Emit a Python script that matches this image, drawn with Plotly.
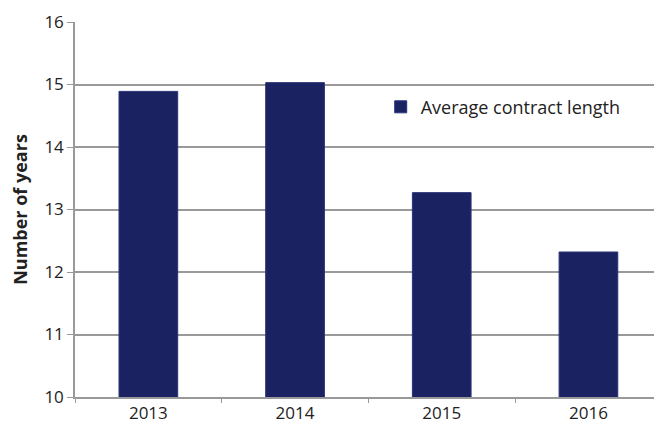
import plotly.graph_objects as go

years = ["2013", "2014", "2015", "2016"]
avg_length = [14.89, 15.03, 13.27, 12.32]
series_name = "Average contract length"
y_ticks = [10, 11, 12, 13, 14, 15, 16]

fig = go.Figure()
fig.add_trace(go.Bar(
    x=years, y=avg_length, name=series_name,
    marker=dict(color="#1b2262", line=dict(color="#2a3278", width=1)),
    showlegend=True,
))

FONT = "Open Sans, sans-serif"
fig.update_layout(
    width=654, height=432,
    margin=dict(l=75, r=0, t=22, b=35),
    paper_bgcolor="white", plot_bgcolor="white",
    bargap=0.6,
    font=dict(family=FONT, size=16, color="#222"),
    showlegend=True,
    legend=dict(x=0.528, y=0.773, xanchor="left", yanchor="middle",
                bgcolor="rgba(0,0,0,0)", font=dict(family=FONT, size=18, color="#222"),
                itemwidth=30, tracegroupgap=0),
    xaxis=dict(
        range=[-0.5, 3.447], type="category",
        showline=True, linecolor="#999", linewidth=1.5,
        ticks="outside", tickson="boundaries", ticklen=4, tickcolor="#999",
        tickfont=dict(family=FONT, size=17, color="#222"),
        showgrid=False,
    ),
    yaxis=dict(
        range=[10, 16], tickvals=y_ticks,
        showline=True, linecolor="#999", linewidth=1.5,
        ticks="outside", ticklen=6, tickcolor="#999",
        gridcolor="#999", gridwidth=1.5,
        tickfont=dict(family=FONT, size=17, color="#222"),
        title=dict(text="<b>Number of years</b>", font=dict(family=FONT, size=18, color="#222"), standoff=12),
        zeroline=False,
    ),
)

fig.write_html("out.html")
